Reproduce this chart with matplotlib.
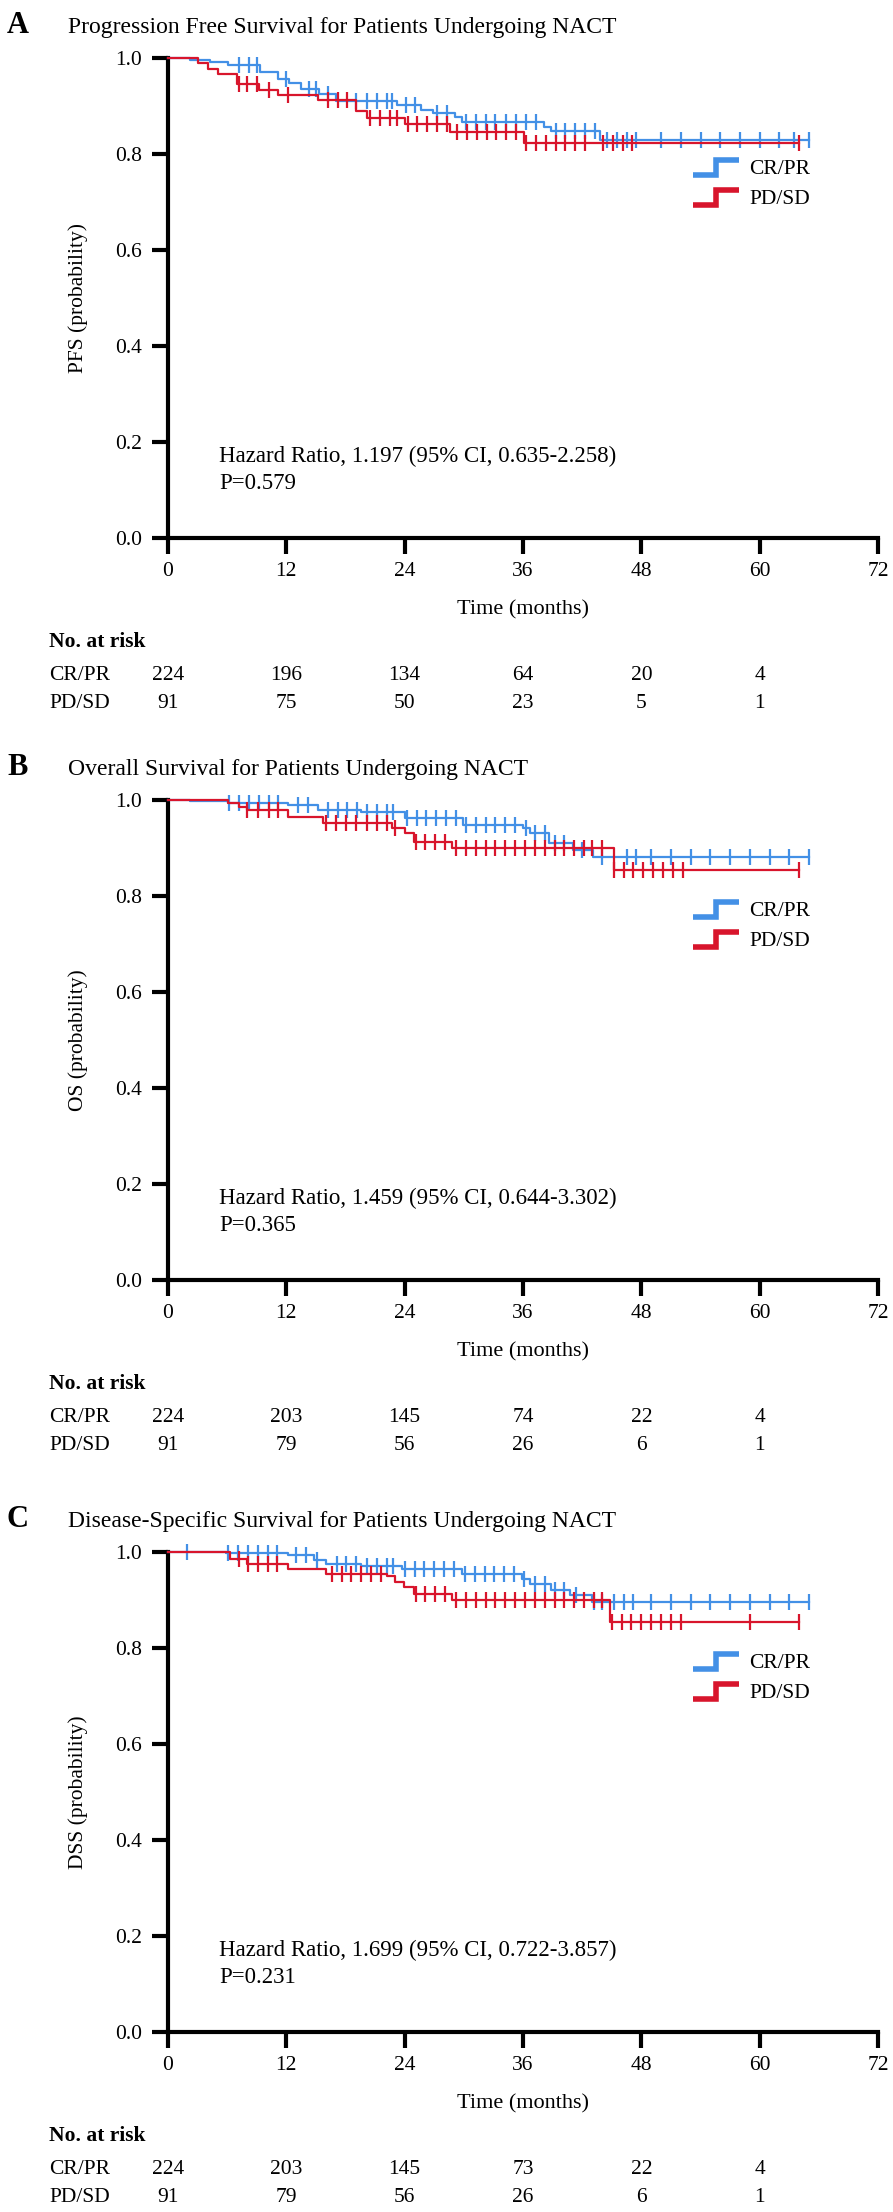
import numpy as np
import matplotlib
matplotlib.use('Agg')
import matplotlib.pyplot as plt
from matplotlib.lines import Line2D
from matplotlib.legend_handler import HandlerBase

plt.rcParams['font.family'] = ['Liberation Serif', 'DejaVu Serif']

BLUE = '#4390e6'
RED = '#d8152c'

group_names = ['CR/PR', 'PD/SD']
risk_times = [0, 12, 24, 36, 48, 60]
x_ticks = [0, 12, 24, 36, 48, 60, 72]
y_ticks = [0.0, 0.2, 0.4, 0.6, 0.8, 1.0]

panel_letters = ['A', 'B', 'C']
panel_titles = ['Progression Free Survival for Patients Undergoing NACT',
                'Overall Survival for Patients Undergoing NACT',
                'Disease-Specific Survival for Patients Undergoing NACT']
y_labels = ['PFS (probability)', 'OS (probability)', 'DSS (probability)']
hr_texts = ['Hazard Ratio, 1.197 (95% CI, 0.635-2.258)',
            'Hazard Ratio, 1.459 (95% CI, 0.644-3.302)',
            'Hazard Ratio, 1.699 (95% CI, 0.722-3.857)']
p_texts = ['P=0.579', 'P=0.365', 'P=0.231']

# numbers at risk
risk_A_crpr = [224, 196, 134, 64, 20, 4]
risk_A_pdsd = [91, 75, 50, 23, 5, 1]
risk_B_crpr = [224, 203, 145, 74, 22, 4]
risk_B_pdsd = [91, 79, 56, 26, 6, 1]
risk_C_crpr = [224, 203, 145, 73, 22, 4]
risk_C_pdsd = [91, 79, 56, 26, 6, 1]

# ---- Panel A (PFS) ----
A_crpr_t = [2.2, 4.3, 6.1, 9.3, 11.2, 12.3, 13.5, 15.3, 17.0, 23.2, 25.7, 26.9, 29.1, 29.8, 38.1, 38.8, 43.8]
A_crpr_s = [0.996, 0.991, 0.985, 0.970, 0.957, 0.948, 0.936, 0.925, 0.911, 0.902, 0.892, 0.885, 0.877, 0.867, 0.857, 0.847, 0.830]
A_crpr_c = [7.2, 8.2, 9.0, 12.0, 14.3, 15.0, 16.2, 19.1, 20.2, 21.2, 22.2, 22.7, 24.1, 25.0, 27.3, 28.3,
            30.2, 31.2, 32.2, 33.2, 34.3, 35.3, 36.3, 37.3, 39.3, 40.3, 41.3, 42.3, 43.3, 44.5, 45.5,
            46.5, 47.5, 50.0, 52.0, 54.0, 56.0, 58.0, 60.0, 62.0, 63.5, 65.0]
A_crpr_end = 65.0
A_pdsd_t = [3.0, 4.1, 5.1, 7.0, 9.2, 11.2, 15.2, 19.1, 20.2, 24.0, 28.6, 36.1]
A_pdsd_s = [0.989, 0.978, 0.967, 0.945, 0.934, 0.923, 0.912, 0.890, 0.874, 0.863, 0.846, 0.822]
A_pdsd_c = [7.2, 8.0, 9.0, 10.2, 12.2, 16.2, 17.2, 18.2, 20.5, 21.5, 22.5, 23.2, 24.3, 25.3, 26.3, 27.3,
            28.3, 29.3, 30.3, 31.3, 32.3, 33.3, 34.3, 35.3, 36.3, 37.3, 38.3, 39.3, 40.3, 41.3, 42.3,
            44.1, 45.1, 46.1, 47.1, 64.0]
A_pdsd_end = 64.0

# ---- Panel B (OS) ----
B_crpr_t = [2.2, 6.1, 12.2, 15.2, 19.6, 24.0, 29.9, 36.0, 36.7, 38.6, 41.1, 43.1]
B_crpr_s = [0.997, 0.993, 0.990, 0.979, 0.974, 0.962, 0.948, 0.941, 0.931, 0.910, 0.896, 0.882]
B_crpr_c = [6.2, 7.2, 8.2, 9.2, 10.2, 11.2, 13.2, 14.2, 16.2, 17.2, 18.2, 19.2, 20.2, 21.2, 22.2, 22.8,
            24.2, 25.2, 26.2, 27.2, 28.2, 29.2, 30.2, 31.2, 32.2, 33.2, 34.2, 35.2, 36.3, 37.2, 38.2,
            39.2, 40.2, 42.0, 44.0, 46.5, 47.5, 49.0, 51.0, 53.0, 55.0, 57.0, 59.0, 61.0, 63.0, 65.0]
B_crpr_end = 65.0
B_pdsd_t = [6.1, 7.2, 8.0, 12.2, 15.7, 22.7, 24.0, 24.9, 28.8, 45.2]
B_pdsd_s = [0.993, 0.986, 0.979, 0.965, 0.953, 0.941, 0.931, 0.913, 0.899, 0.854]
B_pdsd_c = [8.0, 9.1, 10.2, 11.2, 16.0, 17.0, 18.0, 19.1, 20.2, 21.2, 22.2, 23.0, 25.1, 26.1, 27.1, 28.1,
            29.2, 30.2, 31.2, 32.2, 33.2, 34.2, 35.2, 36.2, 37.2, 38.2, 39.2, 40.2, 41.2, 42.2, 43.0,
            44.0, 45.2, 46.2, 47.2, 48.2, 49.2, 50.2, 51.2, 52.2, 64.0]
B_pdsd_end = 64.0

# ---- Panel C (DSS) ----
C_crpr_t = [5.9, 12.2, 14.8, 16.0, 19.6, 23.7, 29.8, 35.9, 36.7, 38.8, 40.8, 43.0]
C_crpr_s = [0.997, 0.993, 0.983, 0.976, 0.971, 0.965, 0.955, 0.944, 0.934, 0.920, 0.910, 0.896]
C_crpr_c = [1.9, 6.1, 7.1, 8.1, 9.1, 10.1, 11.1, 13.0, 14.0, 15.1, 17.1, 18.1, 19.1, 20.2, 21.2, 22.2,
            22.8, 24.0, 25.0, 26.0, 27.0, 28.0, 29.0, 30.1, 31.1, 32.1, 33.1, 34.1, 35.1, 36.1, 37.2,
            38.2, 39.2, 40.2, 41.4, 43.2, 44.0, 45.2, 46.2, 47.2, 49.0, 51.0, 53.0, 55.0, 57.0, 59.0,
            61.0, 63.0, 65.0]
C_crpr_end = 65.0
C_pdsd_t = [6.3, 8.0, 12.2, 16.0, 22.2, 23.0, 23.9, 24.9, 28.8, 44.8]
C_pdsd_s = [0.986, 0.976, 0.965, 0.954, 0.951, 0.937, 0.927, 0.913, 0.899, 0.854]
C_pdsd_c = [7.2, 8.1, 9.1, 10.1, 11.1, 16.6, 17.6, 18.6, 19.6, 20.6, 21.6, 25.1, 26.1, 27.1, 28.1,
            29.2, 30.2, 31.2, 32.2, 33.2, 34.2, 35.2, 36.2, 37.2, 38.2, 39.2, 40.2, 41.2, 42.2, 43.2,
            44.0, 45.0, 46.0, 47.0, 48.0, 49.0, 50.0, 51.0, 52.0, 59.0, 64.0]
C_pdsd_end = 64.0

panels = [
    dict(curves=[(A_crpr_t, A_crpr_s, A_crpr_c, A_crpr_end), (A_pdsd_t, A_pdsd_s, A_pdsd_c, A_pdsd_end)],
         risk=[risk_A_crpr, risk_A_pdsd]),
    dict(curves=[(B_crpr_t, B_crpr_s, B_crpr_c, B_crpr_end), (B_pdsd_t, B_pdsd_s, B_pdsd_c, B_pdsd_end)],
         risk=[risk_B_crpr, risk_B_pdsd]),
    dict(curves=[(C_crpr_t, C_crpr_s, C_crpr_c, C_crpr_end), (C_pdsd_t, C_pdsd_s, C_pdsd_c, C_pdsd_end)],
         risk=[risk_C_crpr, risk_C_pdsd]),
]
colors = [BLUE, RED]


class StepHandler(HandlerBase):
    def create_artists(self, legend, orig_handle, xdescent, ydescent, width, height, fontsize, trans):
        xs = np.array([0.0, 0.5, 0.5, 1.0]) * width - xdescent
        ys = np.array([-0.1, -0.1, 0.9, 0.9]) * height - ydescent
        ln = Line2D(xs, ys, color=orig_handle.get_color(), linewidth=orig_handle.get_linewidth(),
                    solid_joinstyle='miter', solid_capstyle='butt')
        ln.set_transform(trans)
        return [ln]


W, H = 893, 2212
fig = plt.figure(figsize=(W / 100, H / 100), dpi=100)

ax_left, ax_right = 168, 878
ax_h = 480
tops = [58, 800, 1552]
FS = 15.5

for i, (panel, top) in enumerate(zip(panels, tops)):
    ax = fig.add_axes([ax_left / W, 1 - (top + ax_h) / H, (ax_right - ax_left) / W, ax_h / H])
    for (t, s, c, end), col in zip(panel['curves'], colors):
        times = np.concatenate([[0.0], t, [end]])
        surv = np.concatenate([[1.0], s, [s[-1]]])
        ax.step(times, surv, where='post', color=col, lw=1.6, clip_on=False, zorder=3)
        c = np.asarray(c)
        idx = np.searchsorted(times, c, side='right') - 1
        ax.plot(c, surv[idx], ls='none', marker='|', ms=11, mew=1.6, color=col, clip_on=False, zorder=3)
    ax.set_xlim(0, 72)
    ax.set_ylim(0, 1)
    ax.set_xticks(x_ticks)
    ax.set_yticks(y_ticks)
    ax.set_yticklabels([f'{v:.1f}' for v in y_ticks])
    for sp in ['top', 'right']:
        ax.spines[sp].set_visible(False)
    for sp in ['left', 'bottom']:
        ax.spines[sp].set_linewidth(3)
    ax.tick_params(axis='both', direction='out', length=11.5, width=3, labelsize=FS)
    ax.tick_params(axis='y', pad=7)
    ax.tick_params(axis='x', pad=5.5)
    ax.set_ylabel(y_labels[i], fontsize=FS)
    ax.yaxis.set_label_coords(-0.113, 0.5)
    ax.text(0.5, -72 / ax_h, 'Time (months)', transform=ax.transAxes, ha='center', va='center', fontsize=FS + 0.5)

    # title
    ax.text(-161 / 710, 1 + 25 / ax_h, panel_letters[i], transform=ax.transAxes, ha='left',
            va='baseline', fontsize=22, fontweight='bold')
    ax.text(-100 / 710, 1 + 25 / ax_h, panel_titles[i], transform=ax.transAxes, ha='left',
            va='baseline', fontsize=17)

    # HR text
    ax.text(5.2, 0.17, hr_texts[i], ha='left', va='center', fontsize=16.5)
    ax.text(5.2, 0.113, p_texts[i], ha='left', va='center', fontsize=16.5)

    # legend
    handles = [Line2D([], [], color=col, lw=4) for col in colors]
    ax.legend(handles, group_names, handler_map={Line2D: StepHandler()}, loc='upper left',
              bbox_to_anchor=(0.74, 0.79), frameon=False, fontsize=FS, handlelength=2.1,
              handletextpad=0.5, labelspacing=0.45, borderpad=0, borderaxespad=0)

    # risk table
    ax.text(-119 / 710, -104 / ax_h, 'No. at risk', transform=ax.transAxes, ha='left', va='center',
            fontsize=FS, fontweight='bold')
    for j, (name, vals) in enumerate(zip(group_names, panel['risk'])):
        yy = -(137 + 28 * j) / ax_h
        ax.text(-119 / 710, yy, name, transform=ax.transAxes, ha='left', va='center', fontsize=FS)
        for tt, v in zip(risk_times, vals):
            ax.text(tt, yy, str(v), transform=ax.get_xaxis_transform(), ha='center', va='center',
                    fontsize=FS)

fig.savefig('out.png', dpi=100)
